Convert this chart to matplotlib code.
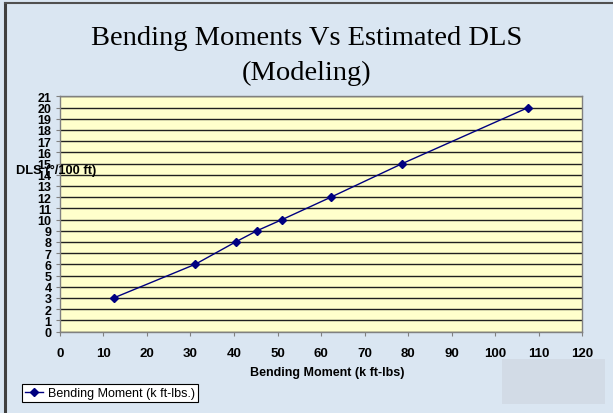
import matplotlib
matplotlib.use("Agg")
import matplotlib.pyplot as plt
from matplotlib.patches import Rectangle
from matplotlib.lines import Line2D

# values
bending_moment = [12.4, 31.1, 40.4, 45.3, 51.1, 62.3, 78.7, 107.6]
dls = [3, 6, 8, 9, 10, 12, 15, 20]
x_ticks = list(range(0, 121, 10))
y_ticks = list(range(0, 22))

W, H = 613, 414
fig = plt.figure(figsize=(W / 100, H / 100), dpi=100)
fig.patch.set_facecolor("#dae6f2")

#darker watermark patch bottom right
fig.patches.append(Rectangle((502 / W, 1 - 405 / H), 103 / W, 45 / H,
                             transform=fig.transFigure, facecolor="#d2dbe6",
                             edgecolor="none", zorder=0))
#frame lines on left and top
fig.add_artist(Line2D([5 / W, 5 / W], [0, 1 - 4 / H], transform=fig.transFigure,
                      color="#404040", lw=2.2))
fig.add_artist(Line2D([5 / W, 1], [1 - 4 / H, 1 - 4 / H], transform=fig.transFigure,
                      color="#505050", lw=1.5))

left, right, top, bottom = 59.8, 582.3, 97.3, 332.5
ax = fig.add_axes([left / W, 1 - bottom / H, (right - left) / W, (bottom - top) / H])
ax.set_facecolor("#ffffcc")

ax.set_xlim(0, 120)
ax.set_ylim(0, 21)
ax.set_xticks(x_ticks)
ax.set_yticks(y_ticks)
ax.yaxis.grid(True, color="#202020", lw=1.0)
ax.set_axisbelow(True)

for s in ax.spines.values():
    s.set_color("#808080")
    s.set_linewidth(1.0)

ax.tick_params(axis="x", direction="out", length=3, color="#808080", pad=8,
               labelsize=9.5)
ax.tick_params(axis="y", direction="out", length=3, color="#808080", pad=3,
               labelsize=9)
for lbl in ax.get_xticklabels() + ax.get_yticklabels():
    lbl.set_fontweight("bold")
    lbl.set_fontfamily("Liberation Sans")

line, = ax.plot(bending_moment, dls, color="#000080", lw=1.0, marker="D",
                markersize=4.5, label="Bending Moment (k ft-lbs.)")

fig.text(0.5, 1 - 45 / H, "Bending Moments Vs Estimated DLS", ha="center",
         va="baseline", family="Liberation Serif", fontsize=20.5)
fig.text(0.5, 1 - 80 / H, "(Modeling)", ha="center", va="baseline",
         family="Liberation Serif", fontsize=20.5)

fig.text(327.6 / W, 1 - 373 / H, "Bending Moment (k ft-lbs)", ha="center",
         va="center", family="Liberation Sans", fontweight="bold", fontsize=9)
fig.text(15.7 / W, 1 - 170.7 / H, "DLS (°/100 ft)", ha="left", va="center",
         family="Liberation Sans", fontweight="bold", fontsize=9.3)

leg = fig.legend(handles=[line], loc="lower left",
                 bbox_to_anchor=(22 / W, 1 - 403 / H), fancybox=False,
                 framealpha=1, edgecolor="black", handlelength=1.4,
                 handletextpad=0.4, borderpad=0.25, borderaxespad=0,
                 prop={"family": "Liberation Sans", "size": 9})
leg.get_frame().set_linewidth(0.8)

fig.savefig("out.png", dpi=100)
